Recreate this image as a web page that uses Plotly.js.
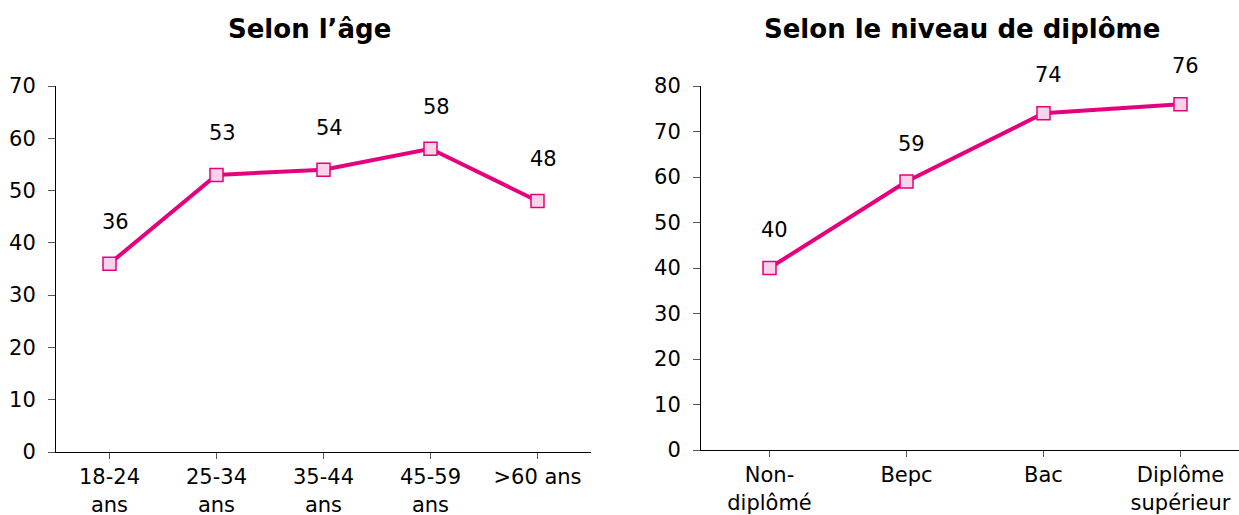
<!DOCTYPE html>
<html><head><meta charset="utf-8">
<script src="https://cdn.plot.ly/plotly-3.0.1.min.js"></script>
<style>html,body{margin:0;padding:0;background:#fff}#c{width:1239px;height:515px}</style>
</head><body><div id="c"></div>
<script>
const ageCategories = ["18-24<br>ans", "25-34<br>ans", "35-44<br>ans", "45-59<br>ans", ">60 ans"];
const ageValues = [36, 53, 54, 58, 48];
const diplomaCategories = ["Non-<br>diplômé", "Bepc", "Bac", "Diplôme<br>supérieur"];
const diplomaValues = [40, 59, 74, 76];
const titles = ["Selon l’âge", "Selon le niveau de diplôme"];

const FONT = "DejaVu Sans, Verdana, sans-serif";
const FS = 21;
const MAG = "#E5007D";
const line = {color: MAG, width: 4};
const marker = {symbol: "square", size: 13, color: "#FBD3E8", line: {color: MAG, width: 1.5}};

const traces = [
  {x: ageCategories.map((_, i) => i), y: ageValues, type: "scatter", mode: "lines+markers", line, marker, xaxis: "x", yaxis: "y", hoverinfo: "skip"},
  {x: diplomaCategories.map((_, i) => i), y: diplomaValues, type: "scatter", mode: "lines+markers", line, marker, xaxis: "x2", yaxis: "y2", hoverinfo: "skip"}
];

const ann = [];
ageValues.forEach((v, i) => ann.push({x: i, y: v, xref: "x", yref: "y", text: String(v), showarrow: false, yshift: 42, xshift: 6, font: {family: FONT, size: FS, color: "#000"}}));
diplomaValues.forEach((v, i) => ann.push({x: i, y: v, xref: "x2", yref: "y2", text: String(v), showarrow: false, yshift: 38, xshift: 5, font: {family: FONT, size: FS, color: "#000"}}));
ann.push({x: 309/1239, y: 1 - 29/515, xref: "paper", yref: "paper", xanchor: "center", yanchor: "middle", text: "<b>" + titles[0] + "</b>", showarrow: false, font: {family: FONT, size: 26, color: "#000"}});
ann.push({x: 962/1239, y: 1 - 29/515, xref: "paper", yref: "paper", xanchor: "center", yanchor: "middle", text: "<b>" + titles[1] + "</b>", showarrow: false, font: {family: FONT, size: 26, color: "#000"}});

const xCommon = {type: "linear", showgrid: false, zeroline: false, showline: true, linecolor: "#000", linewidth: 1,
  ticks: "outside", ticklen: 6, tickcolor: "#555", tickfont: {family: FONT, size: FS, color: "#000"}, fixedrange: true};
const yCommon = {showgrid: false, zeroline: false, showline: true, linecolor: "#000", linewidth: 1,
  ticks: "outside", ticklen: 7, tickcolor: "#555", tickfont: {family: FONT, size: FS, color: "#000"}, dtick: 10,
  ticklabelstandoff: 8, fixedrange: true};

const layout = {
  width: 1239, height: 515, margin: {l: 0, r: 0, t: 0, b: 0}, showlegend: false,
  paper_bgcolor: "#fff", plot_bgcolor: "rgba(0,0,0,0)",
  font: {family: FONT, size: FS, color: "#000"},
  xaxis: Object.assign({}, xCommon, {domain: [56/1239, 591/1239], range: [-0.5, 4.5],
    tickmode: "array", tickvals: ageCategories.map((_, i) => i), ticktext: ageCategories, anchor: "y"}),
  yaxis: Object.assign({}, yCommon, {domain: [63/515, 429/515], range: [0, 70], anchor: "x"}),
  xaxis2: Object.assign({}, xCommon, {domain: [701/1239, 1], range: [-0.5, 3.427],
    tickmode: "array", tickvals: diplomaCategories.map((_, i) => i), ticktext: diplomaCategories, anchor: "y2"}),
  yaxis2: Object.assign({}, yCommon, {domain: [65/515, 429/515], range: [0, 80], anchor: "x2"}),
  annotations: ann
};
Plotly.newPlot("c", traces, layout, {staticPlot: true});
</script></body></html>
